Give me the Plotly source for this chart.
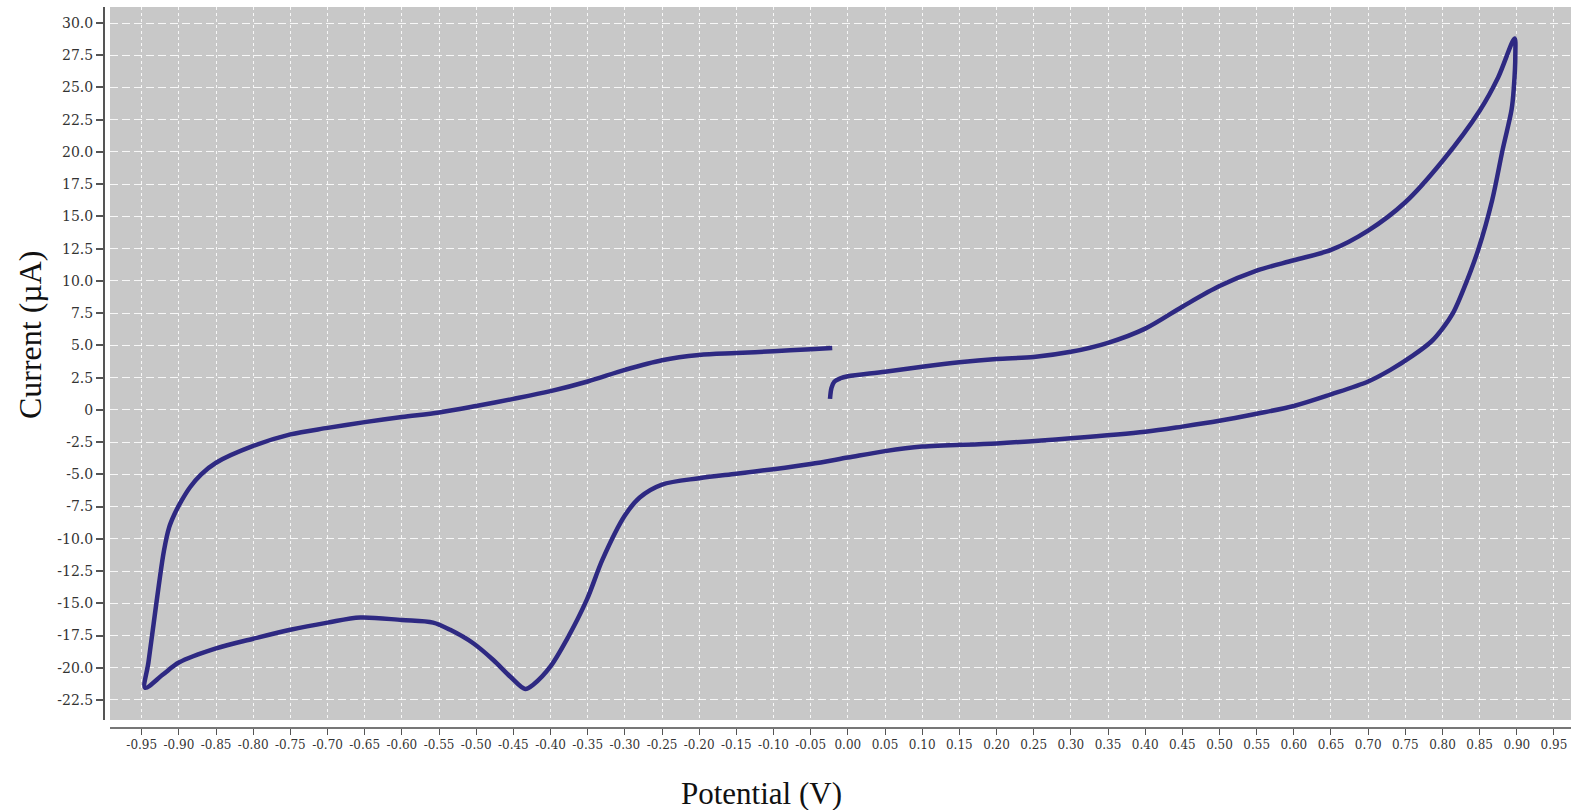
import plotly.graph_objects as go

# Cyclic voltammogram: potential sweep (V) and measured current (µA), in sweep order
potential_v = [
    -0.024, -0.022, -0.018, -0.010, 0.000, 0.05, 0.10, 0.15, 0.20, 0.25, 0.30,
    0.35, 0.40, 0.45, 0.50, 0.55, 0.60, 0.65, 0.70, 0.75, 0.80, 0.85, 0.875, 0.897,
    0.898, 0.896, 0.893, 0.881, 0.867, 0.848, 0.828, 0.815, 0.80, 0.785, 0.76, 0.73,
    0.70, 0.65, 0.60, 0.55, 0.50, 0.45, 0.40, 0.30, 0.20, 0.10, 0.05, 0.00, -0.05,
    -0.10, -0.15, -0.20, -0.25, -0.28, -0.30, -0.33, -0.351, -0.378, -0.40, -0.423,
    -0.434, -0.454, -0.477, -0.504, -0.535, -0.558, -0.60, -0.656, -0.70, -0.75,
    -0.80, -0.85, -0.90, -0.921, -0.9455,
    -0.941, -0.934, -0.927, -0.920, -0.913, -0.906, -0.897, -0.885, -0.87, -0.85,
    -0.80, -0.75, -0.70, -0.65, -0.60, -0.55, -0.50, -0.45, -0.40, -0.35, -0.30,
    -0.25, -0.20, -0.15, -0.10, -0.05, -0.021,
]
current_ua = [
    0.85, 1.7, 2.2, 2.45, 2.6, 2.95, 3.35, 3.7, 3.95, 4.1, 4.5,
    5.2, 6.3, 8.0, 9.6, 10.8, 11.6, 12.4, 13.9, 16.1, 19.3, 23.2, 25.8, 28.8,
    27.5, 25.0, 23.3, 20.2, 16.3, 12.4, 9.3, 7.6, 6.3, 5.3, 4.2, 3.1,
    2.2, 1.2, 0.3, -0.3, -0.85, -1.3, -1.7, -2.2, -2.6, -2.85, -3.2, -3.7, -4.2,
    -4.6, -4.95, -5.3, -5.8, -6.8, -8.2, -11.6, -14.7, -17.8, -19.9, -21.3,
    -21.65, -20.7, -19.4, -18.1, -17.06, -16.5, -16.3, -16.1, -16.5, -17.05,
    -17.75, -18.5, -19.6, -20.5, -21.55,
    -19.6, -16.6, -13.6, -10.9, -9.1, -8.1, -7.1, -6.0, -5.0, -4.1,
    -2.8, -1.9, -1.4, -0.95, -0.55, -0.2, 0.3, 0.85, 1.45, 2.2, 3.1,
    3.85, 4.25, 4.4, 4.55, 4.7, 4.8,
]

x_tick_values = [round(-0.95 + 0.05 * i, 2) for i in range(39)]
x_tick_labels = [f"{v:.2f}".replace("-0.00", "0.00") for v in x_tick_values]
y_tick_values = [-22.5, -20.0, -17.5, -15.0, -12.5, -10.0, -7.5, -5.0, -2.5, 0.0,
                 2.5, 5.0, 7.5, 10.0, 12.5, 15.0, 17.5, 20.0, 22.5, 25.0, 27.5, 30.0]
y_tick_labels = ["-22.5", "-20.0", "-17.5", "-15.0", "-12.5", "-10.0", "-7.5", "-5.0",
                 "-2.5", "0", "2.5", "5.0", "7.5", "10.0", "12.5", "15.0", "17.5",
                 "20.0", "22.5", "25.0", "27.5", "30.0"]

fig = go.Figure()
fig.add_trace(go.Scatter(
    x=potential_v, y=current_ua, mode="lines",
    line=dict(color="#2e2982", width=4.5, shape="spline", smoothing=0.9),
    showlegend=False, hoverinfo="skip",
))

fig.update_layout(
    width=1571, height=810,
    margin=dict(l=104, r=0, t=7, b=82),
    paper_bgcolor="white",
    plot_bgcolor="#c8c8c8",
    xaxis=dict(
        domain=[0.0041, 1.0], anchor="free", position=0.0,
        range=[-0.99265, 0.9729],
        tickmode="array", tickvals=x_tick_values, ticktext=x_tick_labels,
        tickfont=dict(family="DejaVu Serif", size=12, color="#333333"),
        ticks="outside", ticklen=6, tickwidth=1.2, tickcolor="#555555",
        showline=True, linecolor="#777777", linewidth=1.5,
        showgrid=True, gridcolor="rgba(255,255,255,0.85)", gridwidth=1, griddash="3px,3px",
        zeroline=False,
    ),
    yaxis=dict(
        domain=[0.0111, 1.0], anchor="free", position=0.0,
        range=[-24.052, 31.241],
        tickmode="array", tickvals=y_tick_values, ticktext=y_tick_labels,
        tickfont=dict(family="DejaVu Serif", size=14, color="#333333"),
        ticks="outside", ticklen=7, tickwidth=1.5, tickcolor="#555555",
        showline=True, linecolor="#555555", linewidth=2,
        showgrid=True, gridcolor="rgba(255,255,255,0.85)", gridwidth=1, griddash="8px,4px",
        zeroline=False,
    ),
    annotations=[
        dict(text="Potential (V)", xref="paper", yref="paper", x=0.4485, y=-0.0902,
             xanchor="center", yanchor="middle", showarrow=False,
             font=dict(family="Liberation Serif", size=31, color="#111111")),
        dict(text="Current (µA)", xref="paper", yref="paper", x=-0.0504, y=0.545,
             xanchor="center", yanchor="middle", showarrow=False, textangle=-90,
             font=dict(family="Liberation Serif", size=32, color="#111111")),
    ],
)

fig.write_html("out.html")
